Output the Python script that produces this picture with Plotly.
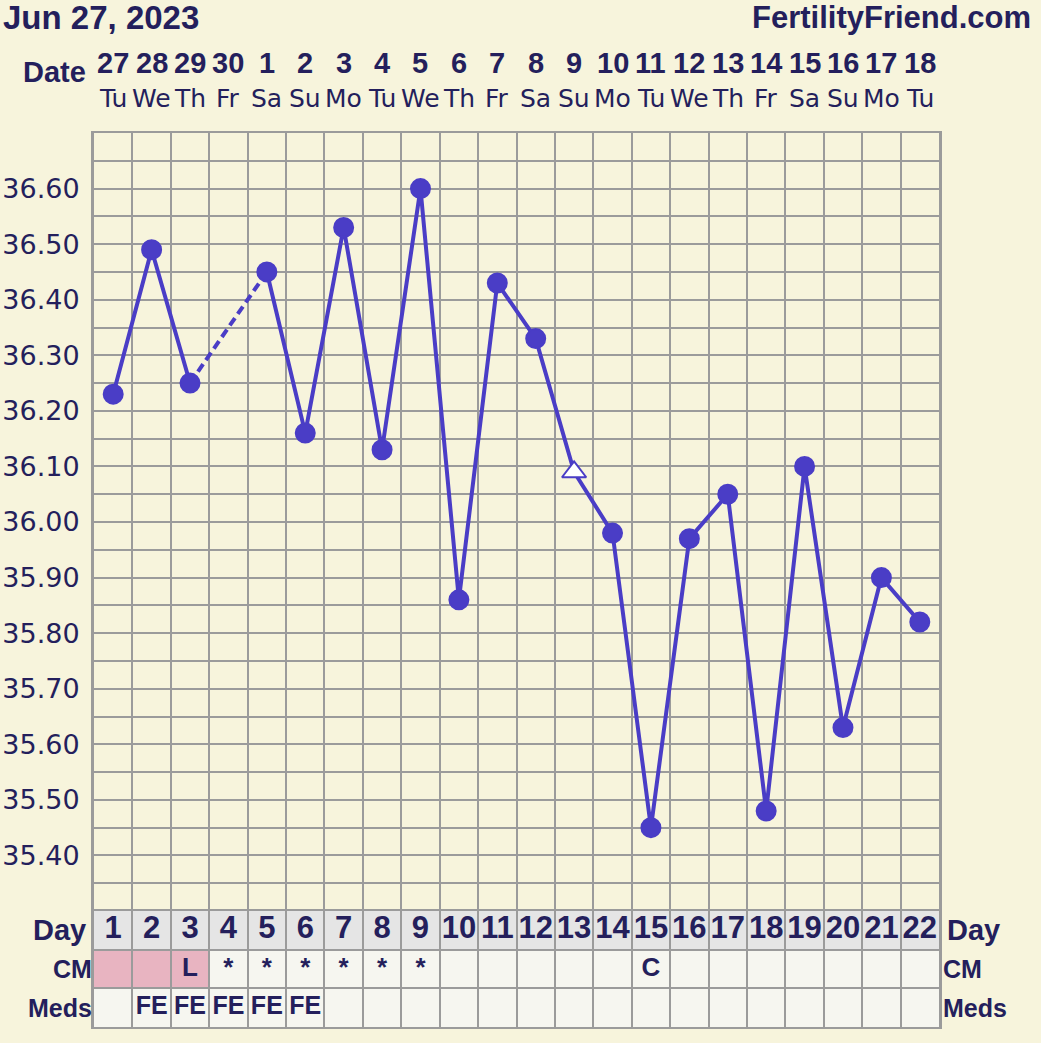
import plotly.graph_objects as go

# ---------------- data ----------------
cycle_days = list(range(1, 23))
date_nums = ["27", "28", "29", "30", "1", "2", "3", "4", "5", "6", "7", "8", "9",
             "10", "11", "12", "13", "14", "15", "16", "17", "18"]
weekdays = ["Tu", "We", "Th", "Fr", "Sa", "Su", "Mo", "Tu", "We", "Th", "Fr", "Sa",
            "Su", "Mo", "Tu", "We", "Th", "Fr", "Sa", "Su", "Mo", "Tu"]
temps = [36.23, 36.49, 36.25, None, 36.45, 36.16, 36.53, 36.13, 36.60, 35.86, 36.43,
         36.33, 36.09, 35.98, 35.45, 35.97, 36.05, 35.48, 36.10, 35.63, 35.90, 35.82]
marker_kind = ["dot"] * 12 + ["open_tri"] + ["dot"] * 9
cm_text = ["", "", "L", "*", "*", "*", "*", "*", "*", "", "", "", "", "", "C",
           "", "", "", "", "", "", ""]
cm_flow = [1, 1, 1] + [0] * 19
meds_text = ["", "FE", "FE", "FE", "FE", "FE"] + [""] * 16
ytick_vals = [35.40, 35.50, 35.60, 35.70, 35.80, 35.90, 36.00, 36.10, 36.20,
              36.30, 36.40, 36.50, 36.60]
ytick_text = ["%.2f" % v for v in ytick_vals]

# ---------------- style ----------------
BG = "#f7f4dc"
GRID = "#9b9b9b"
NAVY = "#241f5c"
LINE = "#4a3dc6"
DAYROW = "#e5e5e5"
CELL = "#f6f6f0"
PINK = "#e8b4c1"
BOLD = "Liberation Sans"
REG = "DejaVu Sans"

W, H = 1041, 1043
ML, MR, MT, MB = 94, 102, 133, 16
PH = H - MT - MB
TABLE_H = 116
split = TABLE_H / PH

fig = go.Figure()

# dashed segments across missing temperatures
i = 0
while i < len(temps):
    if temps[i] is None:
        j = i
        while j < len(temps) and temps[j] is None:
            j += 1
        if i > 0 and j < len(temps):
            fig.add_trace(go.Scatter(
                x=[cycle_days[i - 1], cycle_days[j]], y=[temps[i - 1], temps[j]],
                mode="lines", line=dict(color=LINE, width=4, dash="9px,5px"),
                hoverinfo="skip", showlegend=False, xaxis="x", yaxis="y"))
        i = j
    else:
        i += 1

symbols = ["circle" if k == "dot" else "triangle-up" for k in marker_kind]
mcolors = [LINE if k == "dot" else "#ffffff" for k in marker_kind]
msizes = [19 if k == "dot" else 21 for k in marker_kind]
fig.add_trace(go.Scatter(
    x=cycle_days, y=temps, mode="lines+markers", connectgaps=False,
    line=dict(color=LINE, width=4),
    marker=dict(symbol=symbols, color=mcolors, size=msizes, opacity=1,
                line=dict(color=LINE, width=2)),
    showlegend=False, xaxis="x", yaxis="y"))

# table texts
fig.add_trace(go.Scatter(
    x=cycle_days, y=[2.5] * 22, mode="text", text=[str(d) for d in cycle_days],
    textfont=dict(family=BOLD, size=31, color=NAVY, weight="bold"),
    showlegend=False, hoverinfo="skip", xaxis="x", yaxis="y2"))
fig.add_trace(go.Scatter(
    x=cycle_days, y=[1.5] * 22, mode="text", text=cm_text,
    textfont=dict(family=BOLD, size=26, color=NAVY, weight="bold"),
    showlegend=False, hoverinfo="skip", xaxis="x", yaxis="y2"))
fig.add_trace(go.Scatter(
    x=cycle_days, y=[0.5] * 22, mode="text", text=meds_text,
    textfont=dict(family=BOLD, size=25, color=NAVY, weight="bold"),
    showlegend=False, hoverinfo="skip", xaxis="x", yaxis="y2"))

# table cell backgrounds
shapes = []
shapes.append(dict(type="rect", xref="x", yref="y2", x0=0.5, x1=22.5, y0=2, y1=3,
                   fillcolor=DAYROW, line=dict(width=0), layer="below"))
shapes.append(dict(type="rect", xref="x", yref="y2", x0=0.5, x1=22.5, y0=0, y1=2,
                   fillcolor=CELL, line=dict(width=0), layer="below"))
for d, f in zip(cycle_days, cm_flow):
    if f:
        shapes.append(dict(type="rect", xref="x", yref="y2", x0=d - 0.5, x1=d + 0.5,
                           y0=1, y1=2, fillcolor=PINK, line=dict(width=0), layer="below"))

annotations = []
for d, n, w in zip(cycle_days, date_nums, weekdays):
    annotations.append(dict(x=d, y=(H - MB - 63) / PH, xref="x", yref="paper", text=n,
                            showarrow=False, xanchor="center", yanchor="middle",
                            font=dict(family=BOLD, size=29, color=NAVY, weight="bold")))
    annotations.append(dict(x=d, y=(H - MB - 98) / PH, xref="x", yref="paper", text=w,
                            showarrow=False, xanchor="center", yanchor="middle",
                            font=dict(family=REG, size=25, color=NAVY)))


def px_x(px):
    return (px - ML) / (W - ML - MR)


def px_y(py):
    return (H - MB - py) / PH


annotations += [
    dict(x=px_x(1), y=px_y(17), xref="paper", yref="paper", text="Jun 27, 2023",
         showarrow=False, xanchor="left", yanchor="middle",
         font=dict(family=BOLD, size=33, color=NAVY, weight="bold")),
    dict(x=px_x(1033), y=px_y(17), xref="paper", yref="paper", text="FertilityFriend.com",
         showarrow=False, xanchor="right", yanchor="middle",
         font=dict(family=BOLD, size=31, color=NAVY, weight="bold")),
    dict(x=px_x(88), y=px_y(72), xref="paper", yref="paper", text="Date",
         showarrow=False, xanchor="right", yanchor="middle",
         font=dict(family=BOLD, size=29, color=NAVY, weight="bold")),
    dict(x=px_x(88), y=2.5, xref="paper", yref="y2", text="Day",
         showarrow=False, xanchor="right", yanchor="middle",
         font=dict(family=BOLD, size=29, color=NAVY, weight="bold")),
    dict(x=px_x(94), y=1.5, xref="paper", yref="y2", text="CM",
         showarrow=False, xanchor="right", yanchor="middle",
         font=dict(family=BOLD, size=25, color=NAVY, weight="bold")),
    dict(x=px_x(94), y=0.5, xref="paper", yref="y2", text="Meds",
         showarrow=False, xanchor="right", yanchor="middle",
         font=dict(family=BOLD, size=25, color=NAVY, weight="bold")),
    dict(x=px_x(945), y=2.5, xref="paper", yref="y2", text="Day",
         showarrow=False, xanchor="left", yanchor="middle",
         font=dict(family=BOLD, size=29, color=NAVY, weight="bold")),
    dict(x=px_x(941), y=1.5, xref="paper", yref="y2", text="CM",
         showarrow=False, xanchor="left", yanchor="middle",
         font=dict(family=BOLD, size=25, color=NAVY, weight="bold")),
    dict(x=px_x(941), y=0.5, xref="paper", yref="y2", text="Meds",
         showarrow=False, xanchor="left", yanchor="middle",
         font=dict(family=BOLD, size=25, color=NAVY, weight="bold")),
]

fig.update_layout(
    width=W, height=H,
    margin=dict(l=ML, r=MR, t=MT, b=MB, pad=0, autoexpand=False),
    paper_bgcolor=BG, plot_bgcolor=BG,
    showlegend=False,
    shapes=shapes, annotations=annotations,
    xaxis=dict(range=[0.5, 22.5], tick0=0.5, dtick=1, showticklabels=False,
               showgrid=True, gridcolor=GRID, gridwidth=2, zeroline=False,
               showline=True, linecolor=GRID, linewidth=2, mirror="all",
               anchor="y2", fixedrange=True, automargin=False),
    yaxis=dict(domain=[split, 1], range=[35.30, 36.70], tickvals=ytick_vals,
               ticktext=ytick_text, tickfont=dict(family=REG, size=27, color=NAVY),
               ticks="", ticklabelstandoff=6, automargin=False,
               showgrid=True, gridcolor=GRID, gridwidth=2, zeroline=False,
               minor=dict(tick0=35.30, dtick=0.05, showgrid=True, gridcolor=GRID,
                          gridwidth=2, ticks=""),
               showline=True, linecolor=GRID, linewidth=3, mirror=True,
               anchor="x", fixedrange=True),
    yaxis3=dict(overlaying="y", side="right", anchor="x", range=[35.30, 36.70],
                tickvals=ytick_vals, ticktext=ytick_text, automargin=False,
                tickfont=dict(family=REG, size=27, color=NAVY), ticks="",
                ticklabelstandoff=8, showgrid=False, zeroline=False,
                showline=False, fixedrange=True),
    yaxis2=dict(domain=[0, split], range=[0, 3], tick0=0, dtick=1, automargin=False,
                showticklabels=False, showgrid=True, gridcolor=GRID, gridwidth=2,
                zeroline=False, showline=True, linecolor=GRID, linewidth=3,
                mirror=True, anchor="x", fixedrange=True),
)

fig.write_html(
    "out.html",
    config={"displayModeBar": False},
    post_script="document.body.style.margin='0';document.body.style.overflow='hidden';",
)
